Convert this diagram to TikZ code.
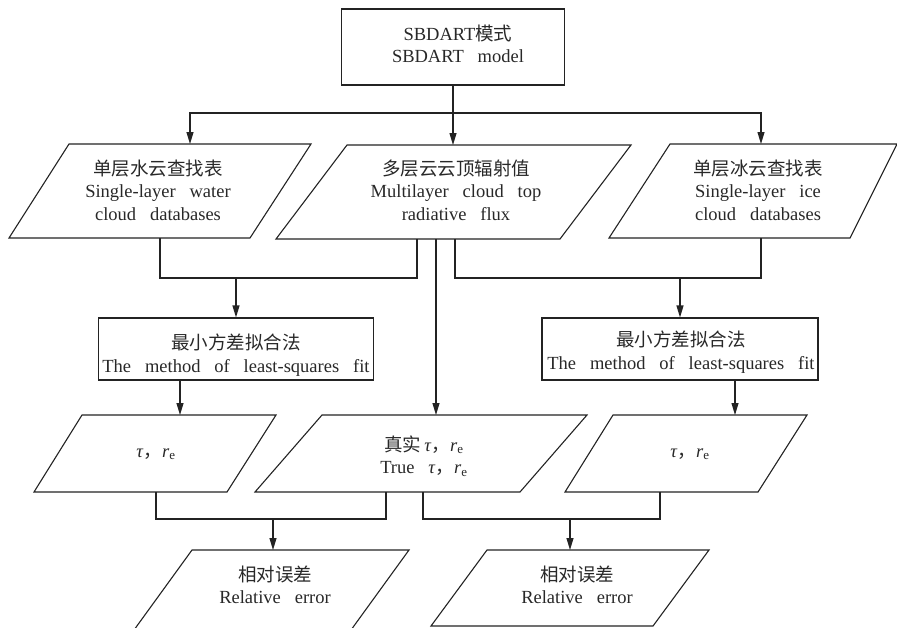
\documentclass[tikz,border=0pt]{standalone}
\usepackage{fontspec}
\setmainfont[WordSpace=3]{Liberation Serif}
\newfontfamily\cjk{Noto Sans CJK SC}
\usetikzlibrary{arrows.meta}
\definecolor{lc}{RGB}{35,35,35}
\definecolor{tc}{RGB}{40,40,40}
\newcommand\tre{\textit{τ}{\cjk ，}\textit{r}\textsubscript{e}}
\begin{document}
\begin{tikzpicture}[x=1pt,y=-1pt,
  ln/.style={line width=1.1pt, draw=lc},
  arr/.style={ln, -{Triangle[length=12pt,width=7pt]}},
  lbl/.style={font=\fontsize{18.5}{22.5}\selectfont, align=center, text=tc, inner sep=0pt},
  boxn/.style={ln, rectangle, inner sep=0pt}]
\useasboundingbox (0,0) rectangle (897,627);

% top box
\node[boxn, minimum width=223pt, minimum height=76pt] (sb) at (453,47) {};
\node[lbl] (sbt) at (458,44) {SBDART{\cjk 模式}\\SBDART model};

% first row parallelograms
\draw[ln] (69,144) -- (311,144) -- (250,238) -- (9,238) -- cycle;
\draw[ln] (347,145) -- (631,145) -- (560,239) -- (276,239) -- cycle;
\draw[ln] (670,144) -- (897,144) -- (850,238) -- (609,238) -- cycle;
\node[lbl] (wt) at (158,190) {{\cjk 单层水云查找表}\\Single-layer water\\cloud databases};
\node[lbl] (mt) at (456,190) {{\cjk 多层云云顶辐射值}\\Multilayer cloud top\\radiative flux};
\node[lbl] (it) at (758,190) {{\cjk 单层冰云查找表}\\Single-layer ice\\cloud databases};

% least squares boxes
\node[boxn, minimum width=275pt, minimum height=62pt] (lsf1) at (236,349) {};
\node[boxn, minimum width=276pt, minimum height=62pt] (lsf2) at (680,349) {};
\node[lbl] (l1t) at (236,355) {{\cjk 最小方差拟合法}\\The method of least-squares fit};
\node[lbl] (l2t) at (681,352) {{\cjk 最小方差拟合法}\\The method of least-squares fit};

% tau row
\draw[ln] (82,415) -- (276,415) -- (227,492) -- (34,492) -- cycle;
\draw[ln] (322,415) -- (587,415) -- (520,492) -- (255,492) -- cycle;
\draw[ln] (613,415) -- (807,415) -- (758,492) -- (565,492) -- cycle;
\node[lbl] (t1t) at (156,454) {\tre};
\node[lbl] (ttt) at (424,456) {{\cjk 真实}\,\tre\\True \tre};
\node[lbl] (t2t) at (690,454) {\tre};

% relative error row
\draw[ln] (192,550) -- (409,550) -- (351,630) -- (134,630) -- cycle;
\draw[ln] (487,550) -- (709,550) -- (653,626) -- (431,626) -- cycle;
\node[lbl] (r1t) at (275,585) {{\cjk 相对误差}\\Relative error};
\node[lbl] (r2t) at (577,585) {{\cjk 相对误差}\\Relative error};

% connector points
\coordinate (split) at (453,113);
\coordinate (mtop) at (453,145);
\coordinate (wtop) at (190,144);
\coordinate (itop) at (761,144);
\coordinate (wbot) at (160,238);
\coordinate (mbotL) at (417,239);
\coordinate (mbotC) at (436,239);
\coordinate (mbotR) at (455,239);
\coordinate (ibot) at (761,238);
\coordinate (j1) at (236,278);
\coordinate (j2) at (680,278);
\coordinate (t1top) at (180,415);
\coordinate (tttop) at (436,415);
\coordinate (t2top) at (735,415);
\coordinate (t1bot) at (156,492);
\coordinate (ttbotL) at (386,492);
\coordinate (ttbotR) at (423,492);
\coordinate (t2bot) at (660,492);
\coordinate (j3) at (273,519);
\coordinate (j4) at (570,519);
\coordinate (r1top) at (273,550);
\coordinate (r2top) at (570,550);

% connectors
\draw[arr] (sb.south) -- (mtop);
\draw[arr] (split) -| (wtop);
\draw[arr] (split) -| (itop);
\draw[ln] (wbot) |- (j1) -| (mbotL);
\draw[arr] (j1) -- (lsf1.north);
\draw[arr] (mbotC) -- (tttop);
\draw[ln] (mbotR) |- (j2) -| (ibot);
\draw[arr] (j2) -- (lsf2.north);
\draw[arr] (lsf1.south -| t1top) -- (t1top);
\draw[arr] (lsf2.south -| t2top) -- (t2top);
\draw[ln] (t1bot) |- (j3) -| (ttbotL);
\draw[arr] (j3) -- (r1top);
\draw[ln] (ttbotR) |- (j4) -| (t2bot);
\draw[arr] (j4) -- (r2top);
\end{tikzpicture}
\end{document}
